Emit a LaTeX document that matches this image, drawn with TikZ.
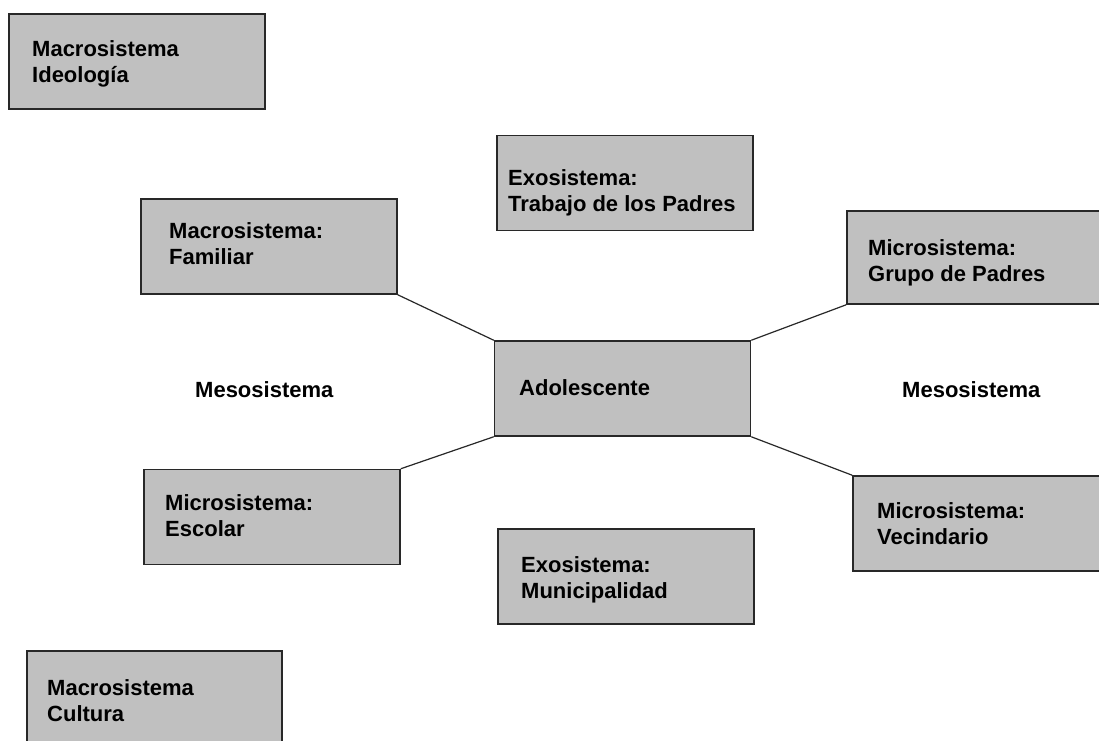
\documentclass[tikz,border=0pt]{standalone}
\usepackage{fontspec}
\setmainfont{Liberation Sans}
\definecolor{boxgray}{RGB}{192,192,192}
\definecolor{edgegray}{RGB}{40,40,40}
\tikzset{
  sysbox/.style={draw=edgegray, line width=1.5pt, fill=boxgray, rectangle,
    minimum width=256pt, minimum height=95pt, inner sep=0pt},
  conn/.style={draw=edgegray, line width=1.2pt},
  lbl/.style={font=\bfseries\fontsize{22}{26}\selectfont, align=left,
    inner sep=0pt, anchor=north west, text=black},
  single/.style={font=\bfseries\fontsize{22}{26}\selectfont,
    inner sep=0pt, anchor=base west, text=black}
}
\begin{document}
\begin{tikzpicture}[x=1pt,y=-1pt]
\useasboundingbox (0,0) rectangle (1099,740);
\fill[white] (0,0) rectangle (1099,740);
\begin{scope}
\clip (0,0) rectangle (1099,740);
% boxes
\node[sysbox] (ideo)  at (137,61.5)  {};
\node[sysbox] (trab)  at (625,183)   {};
\node[sysbox] (fam)   at (269,246.5) {};
\node[sysbox, minimum width=258pt, minimum height=93pt] (grupo) at (976,257.5) {};
\node[sysbox] (adol)  at (622.5,388.5) {};
\node[sysbox] (esc)   at (272,517)   {};
\node[sysbox, minimum width=252pt] (vec) at (979,523.5) {};
\node[sysbox] (muni)  at (626,576.5) {};
\node[sysbox, minimum width=255pt, minimum height=99pt] (cult) at (154.5,700.5) {};
% connectors
\draw[conn] (fam.south east) -- (adol.north west);
\draw[conn] (adol.north east) -- (grupo.south west);
\draw[conn] (adol.south west) -- (esc.north east);
\draw[conn] (adol.south east) -- (vec.north west);
% labels
\node[lbl] (tideo)  at (32,40.3)   {Macrosistema\\Ideología};
\node[lbl] (tfam)   at (169,222.3) {Macrosistema:\\Familiar};
\node[lbl] (ttrab)  at (508,169.3) {Exosistema:\\Trabajo de los Padres};
\node[lbl] (tgrupo) at (868,239.3) {Microsistema:\\Grupo de Padres};
\node[single] (tadol) at (519,395) {Adolescente};
\node[lbl] (tesc)   at (165,494.3) {Microsistema:\\Escolar};
\node[lbl] (tvec)   at (877,502.3) {Microsistema:\\Vecindario};
\node[lbl] (tmuni)  at (521,556.3) {Exosistema:\\Municipalidad};
\node[lbl] (tcult)  at (47,679.3)  {Macrosistema\\Cultura};
\node[single] (meso1) at (195,397) {Mesosistema};
\node[single] (meso2) at (902,397) {Mesosistema};
\end{scope}
\end{tikzpicture}
\end{document}
